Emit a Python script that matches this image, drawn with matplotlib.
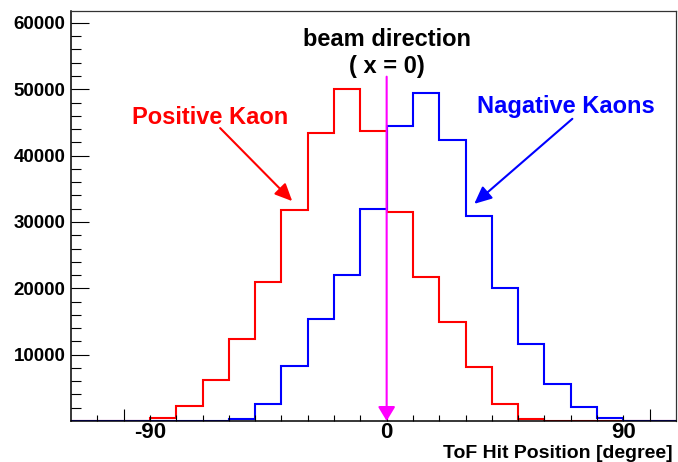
#!/usr/bin/env python3
import numpy as np
import matplotlib.pyplot as plt

plt.rcParams['font.family'] = ['Liberation Sans', 'DejaVu Sans']
plt.rcParams['font.weight'] = 'bold'

# bin edges in degrees, 10 degree bins
edges = np.arange(-120, 111, 10)

positive_kaon = [0, 0, 60, 500, 2300, 6150, 12400, 21000, 31750, 43350, 50000,
                 43750, 31500, 21700, 14900, 8150, 2550, 350, 50, 20, 0, 0, 0]
negative_kaon = [0, 0, 0, 0, 0, 40, 330, 2550, 8300, 15350, 22000, 32000,
                 44400, 49400, 42400, 30900, 20000, 11600, 5650, 2050, 450, 60, 20]

x_labels = [-90, 0, 90]
y_ticks = [10000, 20000, 30000, 40000, 50000, 60000]


fig = plt.figure(figsize=(6.78, 4.62), dpi=100)
ax = fig.add_axes([71 / 678, 41 / 462, 605 / 678, 410 / 462])

ax.stairs(positive_kaon, edges, color='#ff0000', lw=1.5, baseline=0)
ax.stairs(negative_kaon, edges, color='#0000ff', lw=1.5, baseline=0)

ax.set_xlim(-120, 110)
ax.set_ylim(0, 61800)

# ticks, ROOT style (inside)
ax.set_xticks([-100, 0, 100])
ax.set_xticks(np.arange(-110, 110, 10), minor=True)
ax.set_xticklabels([])
ax.set_yticks(y_ticks)
ax.set_yticks(np.arange(2000, 61800, 2000), minor=True)
ax.set_yticklabels([str(v) for v in y_ticks], fontsize=13.5, fontweight='bold')
ax.tick_params(axis='both', which='both', direction='in', top=False, right=False,
               width=0.8, color='black')
ax.tick_params(axis='y', which='major', length=13, pad=4)
ax.tick_params(axis='y', which='minor', length=7)
ax.tick_params(axis='x', which='major', length=8.6)
ax.tick_params(axis='x', which='minor', length=4.3)

for s in ['left', 'bottom']:
    ax.spines[s].set_linewidth(1.1)
for s in ['top', 'right']:
    ax.spines[s].set_linewidth(0.9)
    ax.spines[s].set_color('#333333')

for v in x_labels:
    ax.annotate(str(v), xy=(v, 0), xycoords=('data', 'axes fraction'),
                xytext=(0, -1), textcoords='offset points',
                ha='center', va='top', fontsize=16, fontweight='bold')

fig.text(673 / 678, 3.5 / 462, 'ToF Hit Position [degree]', ha='right',
         va='baseline', fontsize=14, fontweight='bold')

# beam direction marker
ax.text(0, 56560, 'beam direction', ha='center', va='baseline',
        fontsize=17, fontweight='bold')
ax.text(0, 52530, '( x = 0)', ha='center', va='baseline',
        fontsize=17, fontweight='bold')
ax.annotate('', xy=(0, 0), xytext=(0, 51900),
            arrowprops=dict(arrowstyle='-|>,head_length=0.86,head_width=0.52',
                            color='#ff00ff', lw=1.5, shrinkA=0, shrinkB=0))

# kaon labels
ax.text(-67, 44800, 'Positive Kaon', ha='center', va='baseline',
        fontsize=17, fontweight='bold', color='#ff0000')
ax.annotate('', xy=(-35.9, 33140), xytext=(-63.3, 44150),
            arrowprops=dict(arrowstyle='-|>,head_length=1.05,head_width=0.48',
                            color='#ff0000', lw=1.5, shrinkA=0, shrinkB=0))

ax.text(68.3, 46410, 'Nagative Kaons', ha='center', va='baseline',
        fontsize=17, fontweight='bold', color='#0000ff')
ax.annotate('', xy=(33.3, 32730), xytext=(70.6, 45550),
            arrowprops=dict(arrowstyle='-|>,head_length=1.05,head_width=0.48',
                            color='#0000ff', lw=1.5, shrinkA=0, shrinkB=0))

fig.savefig('out.png', dpi=100)
